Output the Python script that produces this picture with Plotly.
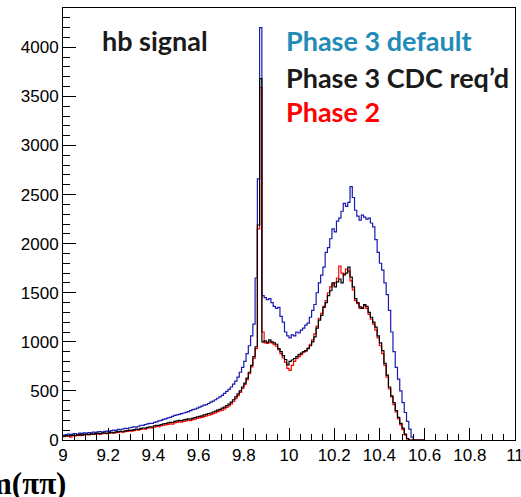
import numpy as np
import plotly.graph_objects as go

# ---------------- data (bin contents, 0.01 wide bins starting at 9.00) ----------------
bin_start = 9.00
bin_width = 0.01

phase3_default = [
    50, 55, 60, 52, 62, 65, 58, 70, 68, 72,
    70, 75, 72, 80, 78, 82, 85, 80, 88, 90,
    88, 95, 100, 98, 108, 105, 112, 118, 115, 125,
    128, 135, 132, 140, 150, 148, 158, 165, 170, 168,
    180, 185, 195, 200, 210, 215, 225, 230, 240, 250,
    255, 262, 268, 275, 282, 290, 300, 310, 315, 325,
    335, 345, 355, 360, 372, 385, 395, 410, 425, 440,
    455, 475, 495, 515, 540, 570, 600, 640, 690, 740,
    800, 880, 960, 1060, 1180, 1650, 2660, 4200, 1470, 1450,
    1430, 1440, 1400, 1360, 1340, 1350, 1260, 1200, 1100, 1060,
    1040, 1070, 1060, 1100, 1090, 1120, 1140, 1170, 1190, 1250,
    1320, 1380, 1500, 1600, 1680, 1760, 1910, 1960, 2050, 2150,
    2120, 2230, 2260, 2330, 2410, 2380, 2420, 2580, 2470, 2340,
    2280, 2240, 2290, 2270, 2250, 2260, 2210, 2170, 2040, 1910,
    1800, 1730, 1600, 1480, 1320, 1100, 900, 740, 620, 500,
    380, 280, 190, 110, 30, 0, 0, 0, 0, 0,
]

phase3_cdc = [
    40, 45, 42, 48, 50, 46, 52, 55, 50, 58,
    60, 56, 62, 60, 65, 68, 64, 70, 72, 68,
    75, 78, 74, 82, 85, 88, 84, 92, 95, 100,
    98, 105, 110, 108, 118, 122, 120, 130, 135, 132,
    145, 150, 148, 158, 165, 168, 175, 180, 178, 190,
    195, 200, 198, 205, 210, 215, 212, 222, 228, 235,
    240, 245, 255, 262, 270, 275, 285, 295, 305, 312,
    325, 335, 350, 365, 385, 410, 440, 470, 500, 540,
    580, 630, 690, 760, 850, 950, 2190, 3680, 1000, 1010,
    995, 1020, 1000, 990, 975, 930, 900, 860, 820, 765,
    800, 815, 830, 850, 870, 885, 900, 910, 930, 960,
    1000, 1050, 1140, 1220, 1270, 1350, 1400, 1470, 1520, 1600,
    1560, 1610, 1640, 1600, 1690, 1700, 1760, 1660, 1560, 1440,
    1400, 1355, 1340, 1380, 1360, 1300, 1250, 1200, 1150, 1060,
    990, 910, 780, 660, 540, 450, 380, 300, 230, 170,
    120, 60, 15, 0, 0, 0, 0, 0, 0, 0,
]

phase2 = [
    35, 40, 38, 30, 45, 42, 48, 44, 50, 52,
    55, 52, 58, 56, 60, 62, 58, 65, 66, 64,
    68, 72, 70, 75, 78, 82, 80, 86, 88, 92,
    90, 96, 102, 100, 108, 112, 110, 120, 124, 122,
    132, 138, 135, 145, 150, 155, 160, 165, 162, 175,
    180, 185, 182, 190, 195, 200, 198, 208, 212, 220,
    225, 230, 238, 245, 252, 258, 268, 276, 288, 296,
    305, 318, 332, 348, 368, 392, 420, 452, 485, 525,
    565, 615, 675, 745, 830, 930, 2150, 3590, 1100, 990,
    985, 1000, 990, 970, 955, 920, 880, 835, 790, 730,
    710, 760, 800, 830, 850, 870, 895, 905, 935, 975,
    1020, 1080, 1160, 1240, 1290, 1360, 1420, 1500, 1560, 1580,
    1600, 1650, 1770, 1700, 1680, 1740, 1720, 1620, 1530, 1420,
    1390, 1340, 1350, 1370, 1340, 1280, 1230, 1180, 1120, 1040,
    960, 880, 760, 640, 520, 440, 360, 285, 215, 155,
    105, 50, 10, 0, 0, 0, 0, 0, 0, 0,
]

x_tick_vals = [9.0, 9.2, 9.4, 9.6, 9.8, 10.0, 10.2, 10.4, 10.6, 10.8, 11.0]
x_tick_text = ["9", "9.2", "9.4", "9.6", "9.8", "10", "10.2", "10.4", "10.6", "10.8", "11"]
y_tick_vals = [0, 500, 1000, 1500, 2000, 2500, 3000, 3500, 4000]
y_tick_text = ["0", "500", "1000", "1500", "2000", "2500", "3000", "3500", "4000"]

legend_labels = ["Phase 3 default", "Phase 3 CDC req\u2019d", "Phase 2"]
title_text = "hb signal"
x_title = "m(\u03c0\u03c0)"

# ---------------- figure ----------------
W, H = 521, 497
ML, MR, MT, MB = 63, 6, 8, 57


def step_xy(vals):
    n = len(vals)
    edges = np.round(bin_start + bin_width * np.arange(n + 1), 4)
    y = list(vals) + [vals[-1]]
    return edges, y


fig = go.Figure()
for vals, col, name in [
    (phase3_default, "#1a1ab0", legend_labels[0]),
    (phase2, "#ff0000", legend_labels[2]),
    (phase3_cdc, "#000000", legend_labels[1]),
]:
    xe, ye = step_xy(vals)
    fig.add_trace(go.Scatter(x=xe, y=ye, mode="lines", line=dict(shape="hv", color=col, width=1.2),
                             name=name, showlegend=False, hoverinfo="skip"))

tickfont = dict(family="Liberation Sans, Arial, sans-serif", size=17, color="black")

fig.update_xaxes(range=[8.99999, 11.00001], tickvals=x_tick_vals, ticktext=x_tick_text, ticks="inside",
                 ticklen=12, tickwidth=1, tickcolor="black", showline=True, linecolor="black",
                 linewidth=1, mirror=True, showgrid=False, zeroline=False, tickfont=tickfont,
                 ticklabeloverflow="allow", automargin=False,
                 minor=dict(dtick=0.05, tick0=9, ticks="inside", ticklen=6, tickcolor="black"))
fig.update_yaxes(range=[0, 4400], tickvals=y_tick_vals, ticktext=y_tick_text, ticks="inside",
                 ticklen=13, tickwidth=1, tickcolor="black", showline=True, linecolor="black",
                 linewidth=1, mirror=True, showgrid=False, zeroline=False, tickfont=tickfont,
                 automargin=False,
                 minor=dict(dtick=100, tick0=0, ticks="inside", ticklen=7, tickcolor="black"))

pw = W - ML - MR
ph = H - MT - MB


def px2paper(px, py):
    return (px - ML) / pw, (H - MB - py) / ph


ann_font = "Lato, Open Sans, sans-serif"
annotations = []
for (txt, col, px, py) in [
    (title_text, "#1a1a1a", 100, 40),
    (legend_labels[0], "#1f8bb6", 284, 40),
    (legend_labels[1], "#1a1a1a", 284, 77),
    (legend_labels[2], "#ff0000", 284, 112),
]:
    xp, yp = px2paper(px, py)
    annotations.append(dict(text="<b>%s</b>" % txt, x=xp, y=yp, xref="paper", yref="paper",
                            xanchor="left", yanchor="middle", showarrow=False,
                            font=dict(family=ann_font, size=27, color=col)))

xp, yp = px2paper(68, 483)
annotations.append(dict(text="<b>%s</b>" % x_title, x=xp, y=yp, xref="paper", yref="paper", xanchor="right",
                        yanchor="middle", showarrow=False,
                        font=dict(family="Liberation Serif, DejaVu Serif, serif", size=31, color="black")))

fig.update_layout(width=W, height=H, margin=dict(l=ML, r=MR, t=MT, b=MB, pad=0, autoexpand=False),
                  paper_bgcolor="white", plot_bgcolor="white", annotations=annotations,
                  showlegend=False)

fig.write_html("out.html", config={"displayModeBar": False})
